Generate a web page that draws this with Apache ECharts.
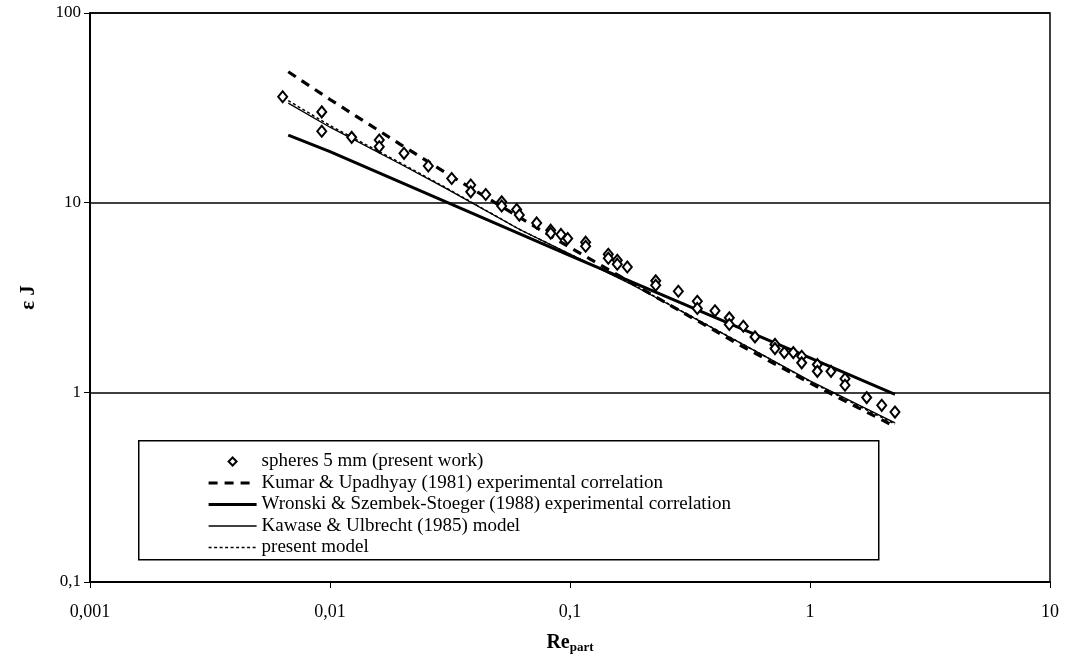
<!DOCTYPE html>
<html>
<head>
<meta charset="utf-8">
<script src="https://cdn.jsdelivr.net/npm/echarts@6/dist/echarts.min.js"></script>
<style>
html,body{margin:0;padding:0;background:#fff;}
#chart{width:1069px;height:663px;}
</style>
</head>
<body>
<div id="chart"></div>
<script>
// ---- data ----
const xTickLabels = ['0,001', '0,01', '0,1', '1', '10'];
const yTickLabels = ['0,1', '1', '10', '100'];

const seriesNames = [
  'spheres 5 mm (present work)',
  'Kumar & Upadhyay (1981) experimental correlation',
  'Wronski & Szembek-Stoeger (1988) experimental correlation',
  'Kawase & Ulbrecht (1985) model',
  'present model'
];

// measured points: [Re_part, eps J]
const spheresRe = [0.00635, 0.00924, 0.00924, 0.01231, 0.01604, 0.01604, 0.02034, 0.02568, 0.03214, 0.03858, 0.03858,
  0.04455, 0.05192, 0.05192, 0.05995, 0.0615, 0.07265, 0.08311, 0.08311, 0.0917, 0.0978, 0.1162, 0.1162,
  0.1444, 0.1444, 0.1574, 0.1574, 0.1733, 0.2276, 0.2276, 0.2827, 0.3392, 0.3392, 0.4019, 0.4611, 0.4611,
  0.5275, 0.5899, 0.7146, 0.7146, 0.7813, 0.8518, 0.9234, 0.9234, 1.073, 1.073, 1.223, 1.399, 1.399,
  1.723, 1.99, 2.26];
const spheresEJ = [36.2, 30.1, 23.8, 22.1, 21.4, 19.7, 18.2, 15.6, 13.4, 12.4, 11.4,
  11.05, 10.1, 9.6, 9.2, 8.6, 7.82, 7.16, 6.9, 6.8, 6.47, 6.19, 5.89,
  5.35, 5.09, 4.97, 4.74, 4.58, 3.87, 3.67, 3.41, 3.02, 2.77, 2.69, 2.47, 2.28,
  2.23, 1.96, 1.79, 1.70, 1.62, 1.62, 1.55, 1.43, 1.40, 1.29, 1.29, 1.18, 1.09,
  0.938, 0.854, 0.787];

const kumarRe = [0.0067, 0.01, 0.02, 0.03, 0.05, 0.1, 0.2, 0.5, 1, 2.26];
const kumarEJ = [49, 35, 20, 14.5, 9.8, 5.8, 3.5, 1.8, 1.12, 0.66];

const wronskiRe = [0.0067, 0.01, 0.1, 1, 2.26];
const wronskiEJ = [22.7, 18.6, 5.26, 1.52, 0.975];

const kawaseRe = [0.0067, 0.01, 0.02, 0.03, 0.062, 0.1, 0.183, 0.62, 1, 2.26];
const kawaseEJ = [33.5, 25, 15.8, 12, 7.2, 5.35, 3.67, 1.6, 1.15, 0.69];

const presentRe = [0.0067, 0.01, 0.02, 0.03, 0.062, 0.1, 0.183, 0.62, 1, 2.26];
const presentEJ = [34.5, 25.5, 16, 12.1, 7.2, 5.35, 3.7, 1.6, 1.14, 0.68];

// ---- build ----
const pairs = (xs, ys) => xs.map((x, i) => [x, ys[i]]);
const FONT = '"Liberation Serif", "DejaVu Serif", serif';
const noSymbol = {color: 'rgba(0,0,0,0)', borderWidth: 0, opacity: 0};

const styles = [
  null,
  {color: '#000', width: 3.2, type: [9, 7]},
  {color: '#000', width: 3},
  {color: '#000', width: 1.3},
  {color: '#000', width: 1.5, type: [3, 2.5]}
];

const chart = echarts.init(document.getElementById('chart'), null, {renderer: 'canvas'});

const option = {
  backgroundColor: '#fff',
  animation: false,
  textStyle: {fontFamily: FONT, color: '#000'},
  grid: {left: 90, right: 19, top: 13, bottom: 81, show: true, borderColor: '#000', borderWidth: 1.5, backgroundColor: 'transparent'},
  xAxis: {
    type: 'log', logBase: 10, min: 0.001, max: 10,
    name: '{a|Re}{b|part}',
    nameLocation: 'middle', nameGap: 50,
    nameTextStyle: {
      rich: {
        a: {fontFamily: FONT, fontSize: 20, fontWeight: 'bold', color: '#000'},
        b: {fontFamily: FONT, fontSize: 13, fontWeight: 'bold', color: '#000', verticalAlign: 'bottom', padding: [9, 0, 0, 0]}
      }
    },
    axisLine: {show: true, lineStyle: {color: '#000', width: 2}},
    axisTick: {show: true, inside: false, length: 6, lineStyle: {color: '#000', width: 1}},
    minorTick: {show: false},
    splitLine: {show: false},
    axisLabel: {
      margin: 21, fontSize: 18, fontFamily: FONT, color: '#000',
      formatter: v => xTickLabels[Math.round(Math.log10(v)) + 3]
    }
  },
  yAxis: {
    type: 'log', logBase: 10, min: 0.1, max: 100,
    name: 'ε J',
    nameLocation: 'middle', nameGap: 51, nameRotate: 90,
    nameTextStyle: {fontFamily: FONT, fontSize: 21, fontWeight: 'bold', color: '#000'},
    axisLine: {show: true, lineStyle: {color: '#000', width: 2}},
    axisTick: {show: true, inside: false, length: 6, lineStyle: {color: '#000', width: 1}},
    minorTick: {show: false},
    splitLine: {show: true, lineStyle: {color: '#000', width: 1.5}},
    axisLabel: {
      margin: 9, fontSize: 17, fontFamily: FONT, color: '#000',
      formatter: v => yTickLabels[Math.round(Math.log10(v)) + 1]
    }
  },
  legend: {
    orient: 'vertical', left: 207, top: 452,
    itemWidth: 48, itemHeight: 10, itemGap: 2.5,
    padding: 0,
    textStyle: {fontFamily: FONT, fontSize: 19, color: '#000', lineHeight: 19},
    data: [
      {name: seriesNames[0]},
      {name: seriesNames[1], itemStyle: noSymbol, lineStyle: styles[1]},
      {name: seriesNames[2], itemStyle: noSymbol, lineStyle: styles[2]},
      {name: seriesNames[3], itemStyle: noSymbol, lineStyle: styles[3]},
      {name: seriesNames[4], itemStyle: noSymbol, lineStyle: styles[4]}
    ]
  },
  graphic: [{
    type: 'rect', left: 138, top: 440, z: 0,
    shape: {width: 740, height: 119},
    style: {fill: '#fff', stroke: '#000', lineWidth: 1.5}
  }],
  series: [
    {
      name: seriesNames[0], type: 'line', data: pairs(spheresRe, spheresEJ),
      symbol: 'emptyDiamond', symbolSize: [9, 11], showSymbol: true, showAllSymbol: true, z: 5,
      lineStyle: {width: 0, opacity: 0},
      itemStyle: {color: '#000', borderColor: '#000', borderWidth: 1.5}
    },
    {
      name: seriesNames[1], type: 'line', data: pairs(kumarRe, kumarEJ),
      symbol: 'none', smooth: false, z: 3,
      itemStyle: {color: '#000'},
      lineStyle: styles[1]
    },
    {
      name: seriesNames[2], type: 'line', data: pairs(wronskiRe, wronskiEJ),
      symbol: 'none', smooth: false, z: 3,
      itemStyle: {color: '#000'},
      lineStyle: styles[2]
    },
    {
      name: seriesNames[3], type: 'line', data: pairs(kawaseRe, kawaseEJ),
      symbol: 'none', smooth: false, z: 3,
      itemStyle: {color: '#000'},
      lineStyle: styles[3]
    },
    {
      name: seriesNames[4], type: 'line', data: pairs(presentRe, presentEJ),
      symbol: 'none', smooth: false, z: 3,
      itemStyle: {color: '#000'},
      lineStyle: styles[4]
    }
  ]
};
chart.setOption(option);
</script>
</body>
</html>
